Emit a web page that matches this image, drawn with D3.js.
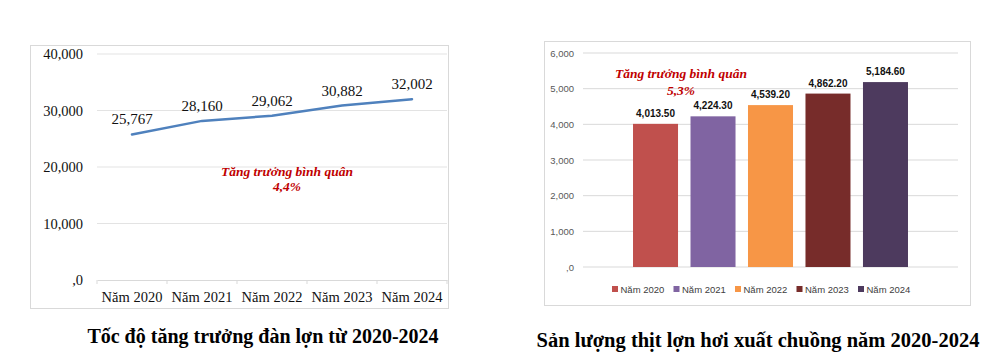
<!DOCTYPE html>
<html><head><meta charset="utf-8">
<script src="https://cdn.jsdelivr.net/npm/d3@7"></script>
<style>body{margin:0;background:#fff}svg{display:block}</style>
</head><body>
<svg id="c" width="1000" height="356"></svg>
<script>
const years = ["Năm 2020","Năm 2021","Năm 2022","Năm 2023","Năm 2024"];
const herdValues = [25767, 28160, 29062, 30882, 32002];
const herdLabels = ["25,767","28,160","29,062","30,882","32,002"];
const herdTicks = [0, 10000, 20000, 30000, 40000];
const herdTickLabels = [",0","10,000","20,000","30,000","40,000"];
const meatValues = [4013.5, 4224.3, 4539.2, 4862.2, 5184.6];
const meatLabels = ["4,013.50","4,224.30","4,539.20","4,862.20","5,184.60"];
const meatTicks = [0,1000,2000,3000,4000,5000,6000];
const meatTickLabels = [",0","1,000","2,000","3,000","4,000","5,000","6,000"];
const barColors = ["#C0504D","#8064A2","#F79646","#772C2A","#4D3A5E"];

const svg = d3.select("#c");
const serif = "'Liberation Serif','Times New Roman',serif";
const sans = "'Liberation Sans',Arial,sans-serif";

// ---------- Left chart ----------
svg.append("rect").attr("x",30.5).attr("y",45.5).attr("width",418).attr("height",263)
  .attr("fill","#fff").attr("stroke","#d9d9d9");
const xL = d3.scaleBand().domain(years).range([97,447]);
const yL = d3.scaleLinear().domain([0,40000]).range([280,54]);
const gL = svg.append("g");
gL.selectAll("line.grid").data(herdTicks.slice(1)).join("line")
  .attr("x1",97).attr("x2",447).attr("y1",d=>yL(d)).attr("y2",d=>yL(d))
  .attr("stroke","#e3e3e3").attr("stroke-width",1.2);
gL.selectAll("text.yt").data(herdTicks).join("text")
  .attr("x",83).attr("y",d=>yL(d)+5).attr("text-anchor","end")
  .attr("font-family",serif).attr("font-size",14.5).attr("fill","#111")
  .text((d,i)=>herdTickLabels[i]);
const xAxisL = d3.axisBottom(xL).tickSize(0).tickFormat(d=>d);
const ax = gL.append("g").attr("transform","translate(0,280)").call(xAxisL);
ax.select(".domain").attr("stroke","#d9d9d9");
ax.selectAll("text").attr("font-family",serif).attr("font-size",14.5).attr("fill","#111").attr("dy","1.3em");
gL.selectAll("line.xt").data(years.concat(["end"])).join("line")
  .attr("x1",(d,i)=>i<5?xL(d):447).attr("x2",(d,i)=>i<5?xL(d):447)
  .attr("y1",280).attr("y2",284).attr("stroke","#d9d9d9");
const line = d3.line().x((d,i)=>xL(years[i])+xL.bandwidth()/2).y(d=>yL(d));
gL.append("path").datum(herdValues).attr("d",line).attr("fill","none")
  .attr("stroke","#4F81BD").attr("stroke-width",2.5).attr("stroke-linecap","round");
gL.selectAll("text.lbl").data(herdValues).join("text")
  .attr("x",(d,i)=>xL(years[i])+xL.bandwidth()/2).attr("y",d=>yL(d)-10)
  .attr("text-anchor","middle").attr("font-family",serif).attr("font-size",15).attr("fill","#111")
  .text((d,i)=>herdLabels[i]);
gL.append("text").attr("x",287).attr("y",176).attr("text-anchor","middle")
  .attr("font-family",serif).attr("font-size",13.5).attr("font-weight","bold").attr("font-style","italic")
  .attr("fill","#C00000").text("Tăng trưởng bình quân");
gL.append("text").attr("x",287).attr("y",191).attr("text-anchor","middle")
  .attr("font-family",serif).attr("font-size",13.5).attr("font-weight","bold").attr("font-style","italic")
  .attr("fill","#C00000").text("4,4%");
svg.append("text").attr("x",263).attr("y",343).attr("text-anchor","middle")
  .attr("font-family",serif).attr("font-size",20).attr("font-weight","bold").attr("fill","#000")
  .text("Tốc độ tăng trưởng đàn lợn từ 2020-2024");

// ---------- Right chart ----------
svg.append("rect").attr("x",544.5).attr("y",41.5).attr("width",426).attr("height",264)
  .attr("fill","#fff").attr("stroke","#d9d9d9");
const xR = d3.scaleBand().domain(years).range([583,958]).paddingInner(0.217).paddingOuter(0.87);
const yR = d3.scaleLinear().domain([0,6000]).range([267,53]);
const gR = svg.append("g");
gR.selectAll("line.grid").data(meatTicks).join("line")
  .attr("x1",583).attr("x2",958).attr("y1",d=>yR(d)).attr("y2",d=>yR(d))
  .attr("stroke","#d9d9d9").attr("stroke-width",1);
gR.selectAll("text.yt").data(meatTicks).join("text")
  .attr("x",574).attr("y",d=>yR(d)+3.5).attr("text-anchor","end")
  .attr("font-family",sans).attr("font-size",9.5).attr("fill","#595959")
  .text((d,i)=>meatTickLabels[i]);
gR.selectAll("rect.bar").data(meatValues).join("rect")
  .attr("x",(d,i)=>xR(years[i])).attr("width",xR.bandwidth())
  .attr("y",d=>yR(d)).attr("height",d=>yR(0)-yR(d))
  .attr("fill",(d,i)=>barColors[i]);
gR.selectAll("text.lbl").data(meatValues).join("text")
  .attr("x",(d,i)=>xR(years[i])+xR.bandwidth()/2).attr("y",d=>yR(d)-7)
  .attr("text-anchor","middle").attr("font-family",sans).attr("font-size",10).attr("font-weight","bold")
  .attr("fill","#111").text((d,i)=>meatLabels[i]);
gR.append("text").attr("x",681).attr("y",78).attr("text-anchor","middle")
  .attr("font-family",serif).attr("font-size",13.5).attr("font-weight","bold").attr("font-style","italic")
  .attr("fill","#C00000").text("Tăng trưởng bình quân");
gR.append("text").attr("x",681).attr("y",95).attr("text-anchor","middle")
  .attr("font-family",serif).attr("font-size",13.5).attr("font-weight","bold").attr("font-style","italic")
  .attr("fill","#C00000").text("5,3%");
const legX = d3.scalePoint().domain(years).range([612,858]);
const leg = gR.selectAll("g.leg").data(years).join("g")
  .attr("transform",d=>`translate(${legX(d)},289)`);
leg.append("rect").attr("x",0).attr("y",-3).attr("width",6).attr("height",6)
  .attr("fill",(d,i)=>barColors[i]);
leg.append("text").attr("x",8.5).attr("y",3.5).attr("font-family",sans).attr("font-size",9.5)
  .attr("fill","#404040").text(d=>d);
svg.append("text").attr("x",758).attr("y",347).attr("text-anchor","middle")
  .attr("font-family",serif).attr("font-size",20.5).attr("font-weight","bold").attr("fill","#000")
  .text("Sản lượng thịt lợn hơi xuất chuồng năm 2020-2024");
</script>
</body></html>
